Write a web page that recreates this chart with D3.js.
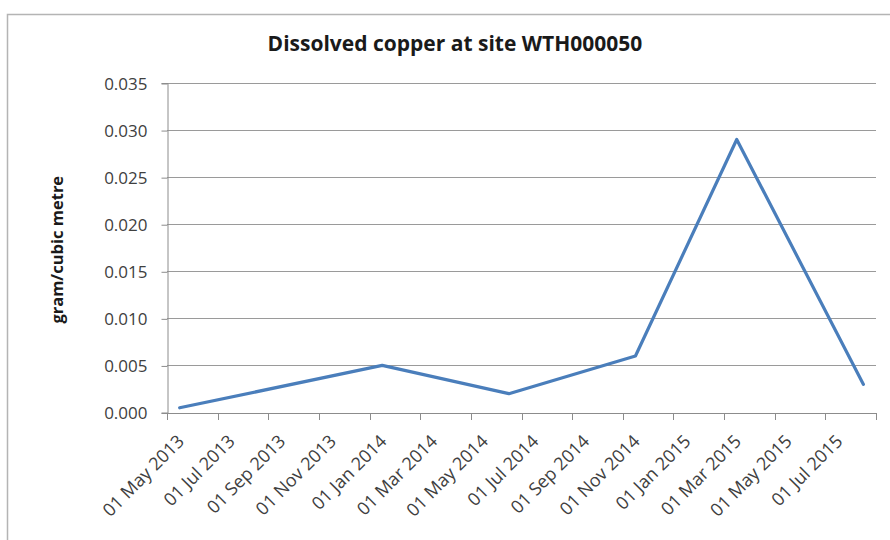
<!DOCTYPE html>
<html>
<head>
<meta charset="utf-8">
<script src="https://cdn.jsdelivr.net/npm/d3@7"></script>
<style>
  html, body { margin: 0; padding: 0; background: #ffffff; }
  svg { display: block; }
  text { font-family: "Open Sans", "Noto Sans", sans-serif; }
</style>
</head>
<body>
<svg id="chart" width="890" height="540"></svg>
<script>
// Sample months (first of month) and dissolved copper readings, g/m³
const sampleMonths = ["2013-05-01", "2014-01-01", "2014-06-01", "2014-11-01", "2015-03-01", "2015-08-01"];
const copperValues = [0.0005, 0.005, 0.002, 0.006, 0.029, 0.003];

// Axis labels
const xTickLabels = [
  "01 May 2013", "01 Jul 2013", "01 Sep 2013", "01 Nov 2013",
  "01 Jan 2014", "01 Mar 2014", "01 May 2014", "01 Jul 2014",
  "01 Sep 2014", "01 Nov 2014", "01 Jan 2015", "01 Mar 2015",
  "01 May 2015", "01 Jul 2015"
];
const yTickValues = [0, 0.005, 0.010, 0.015, 0.020, 0.025, 0.030, 0.035];

const chartTitle = "Dissolved copper at site WTH000050";
const yAxisTitle = "gram/cubic metre";

const svg = d3.select("#chart");
const W = 890, H = 540;
const plot = { left: 167, right: 876, top: 83, bottom: 412.5 };

// Chart frame
svg.append("rect")
  .attr("x", 7.5).attr("y", 14.5)
  .attr("width", W + 20).attr("height", H + 20)
  .attr("fill", "#ffffff")
  .attr("stroke", "#b4b4b4")
  .attr("stroke-width", 1.5);

// Month slots: one band per calendar month, two months per labelled interval
const parseDay = d3.utcParse("%Y-%m-%d");
const firstMonth = d3.utcMonth.floor(parseDay(sampleMonths[0]));
const monthSlots = d3.utcMonth.range(firstMonth, d3.utcMonth.offset(firstMonth, xTickLabels.length * 2));
const monthKey = d3.utcFormat("%Y-%m");

const x = d3.scaleBand()
  .domain(monthSlots.map(monthKey))
  .range([plot.left, plot.right])
  .paddingInner(0).paddingOuter(0);

const y = d3.scaleLinear()
  .domain([0, d3.max(yTickValues)])
  .range([plot.bottom, plot.top]);

// Horizontal gridlines
svg.append("g")
  .selectAll("line")
  .data(yTickValues.filter(v => v > 0))
  .join("line")
  .attr("x1", plot.left).attr("x2", plot.right)
  .attr("y1", d => Math.round(y(d)) + 0.5)
  .attr("y2", d => Math.round(y(d)) + 0.5)
  .attr("stroke", "#9a9a9a")
  .attr("stroke-width", 1);

// Y axis
const yAxis = d3.axisLeft(y)
  .tickValues(yTickValues)
  .tickFormat(d3.format(".3f"))
  .tickSize(6)
  .tickPadding(14);

const gy = svg.append("g")
  .attr("transform", `translate(${plot.left + 0.5},0)`)
  .call(yAxis);
gy.select(".domain").attr("stroke", "#8c8c8c");
gy.selectAll(".tick line").attr("stroke", "#8c8c8c")
  .attr("transform", "translate(0,0.5)");
gy.selectAll(".tick text")
  .attr("fill", "#404040")
  .style("font-size", "17px")
  .attr("dy", "0.36em");

// X axis: ticks at every second month boundary, labels centred between them
const tickMonths = monthSlots.filter((d, i) => i % 2 === 0).map(monthKey);
const tickXs = tickMonths.map(m => x(m)).concat([plot.right]);

const gx = svg.append("g");
gx.append("line")
  .attr("x1", plot.left).attr("x2", plot.right)
  .attr("y1", Math.round(y(0)) + 0.5).attr("y2", Math.round(y(0)) + 0.5)
  .attr("stroke", "#8c8c8c");
gx.selectAll("line.tick")
  .data(tickXs)
  .join("line")
  .attr("class", "tick")
  .attr("x1", d => Math.round(d) + 0.5).attr("x2", d => Math.round(d) + 0.5)
  .attr("y1", Math.round(y(0))).attr("y2", Math.round(y(0)) + 7)
  .attr("stroke", "#8c8c8c");

gx.selectAll("text")
  .data(xTickLabels)
  .join("text")
  .attr("transform", (d, i) => {
    const cx = x(monthKey(monthSlots[i * 2 + 1])) - 7;
    return `translate(${cx},${y(0) + 30}) rotate(-45)`;
  })
  .attr("text-anchor", "end")
  .attr("fill", "#404040")
  .style("font-size", "18px")
  .text(d => d);

// Data line, each reading at the centre of its month slot
const points = sampleMonths.map((m, i) => ({
  key: monthKey(parseDay(m)),
  value: copperValues[i]
}));

const line = d3.line()
  .x(d => x(d.key) + x.bandwidth() / 2)
  .y(d => y(d.value));

svg.append("path")
  .datum(points)
  .attr("d", line)
  .attr("fill", "none")
  .attr("stroke", "#4a7ebb")
  .attr("stroke-width", 3.2)
  .attr("stroke-linejoin", "round")
  .attr("stroke-linecap", "round");

// Titles
svg.append("text")
  .attr("x", 455).attr("y", 51)
  .attr("text-anchor", "middle")
  .attr("fill", "#1a1a1a")
  .style("font-size", "21px")
  .style("font-weight", "bold")
  .text(chartTitle);

svg.append("text")
  .attr("transform", `translate(63,${(plot.top + plot.bottom) / 2 + 2}) rotate(-90)`)
  .attr("text-anchor", "middle")
  .attr("fill", "#1a1a1a")
  .style("font-size", "16.5px")
  .style("font-weight", "bold")
  .text(yAxisTitle);
</script>
</body>
</html>
